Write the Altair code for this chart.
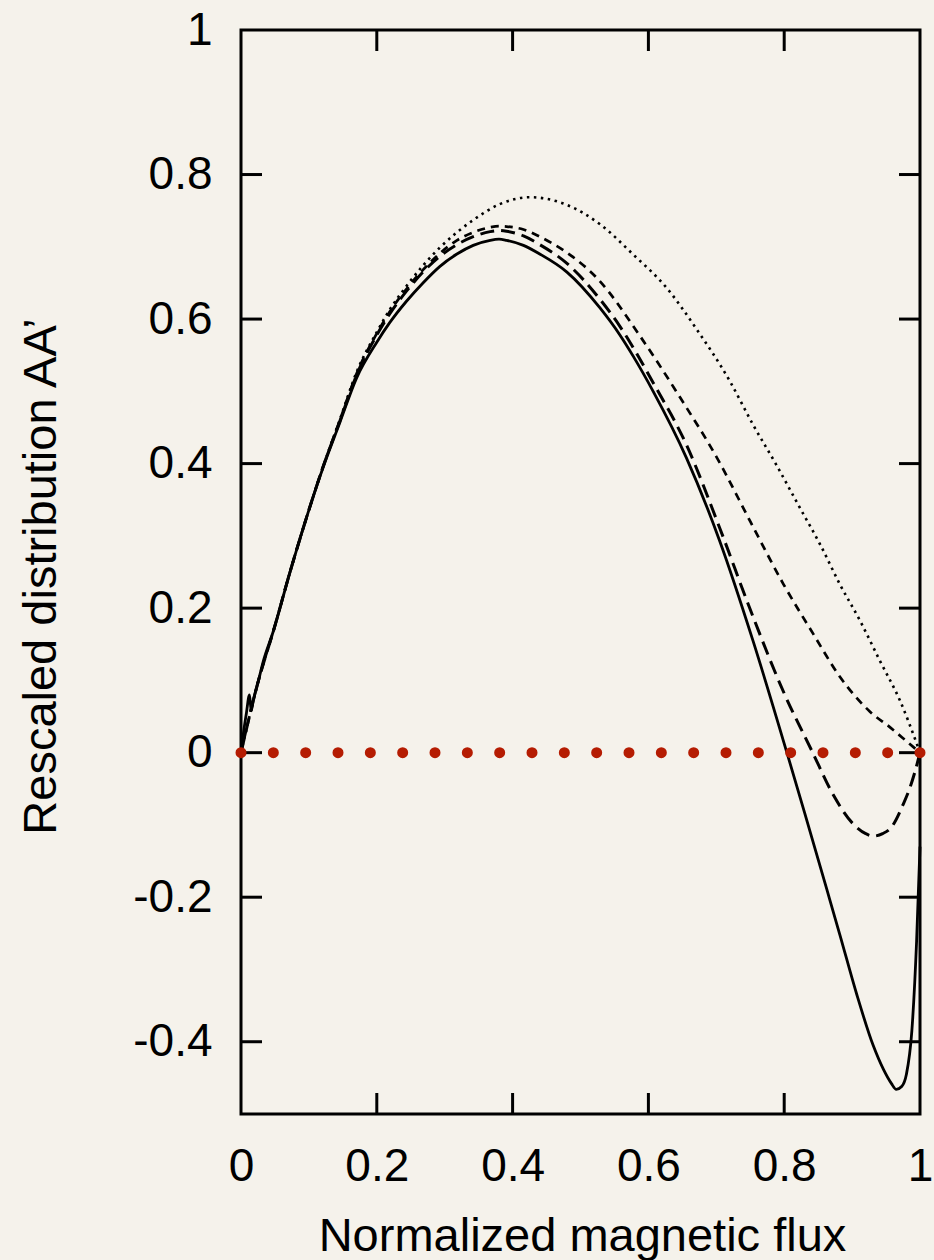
import altair as alt
import pandas as pd

# ---- data ----
solid_x = [0, 0.004, 0.008, 0.0125, 0.015, 0.018, 0.0255, 0.033, 0.0476, 0.0722, 0.0967,
           0.121, 0.146, 0.17, 0.2, 0.219, 0.244, 0.268, 0.293, 0.318, 0.342,
           0.367, 0.38, 0.391, 0.416, 0.44, 0.48, 0.529, 0.558, 0.578, 0.607,
           0.656, 0.705, 0.754, 0.804, 0.83, 0.863, 0.882, 0.907, 0.931, 0.946,
           0.958, 0.965, 0.973, 0.98, 0.988, 0.995, 1.0]
solid_y = [0, 0.03, 0.055, 0.08, 0.058, 0.072, 0.099, 0.127, 0.168, 0.25, 0.326,
           0.395, 0.458, 0.518, 0.568, 0.595, 0.625, 0.65, 0.673, 0.69, 0.702,
           0.709, 0.7105, 0.709, 0.702, 0.69, 0.665, 0.615, 0.578, 0.548, 0.5,
           0.408, 0.293, 0.155, 0.0, -0.083, -0.19, -0.252, -0.335, -0.405, -0.438,
           -0.458, -0.466, -0.462, -0.445, -0.385, -0.261, -0.13]

longdash_x = [0, 0.0255, 0.0476, 0.0722, 0.0967, 0.121, 0.146, 0.17, 0.2, 0.219,
              0.244, 0.268, 0.293, 0.318, 0.342, 0.367, 0.38, 0.391, 0.416, 0.44,
              0.48, 0.529, 0.558, 0.607, 0.656, 0.705, 0.75, 0.80, 0.842, 0.872,
              0.902, 0.92, 0.931, 0.945, 0.958, 0.975, 0.985, 0.993, 1.0]
longdash_y = [0, 0.099, 0.168, 0.25, 0.326, 0.396, 0.46, 0.522, 0.578, 0.607,
              0.639, 0.665, 0.687, 0.703, 0.714, 0.721, 0.7225, 0.7215, 0.715, 0.703,
              0.677, 0.627, 0.59, 0.512, 0.426, 0.311, 0.198, 0.082, 0.0, -0.058,
              -0.099, -0.112, -0.1155, -0.112, -0.103, -0.072, -0.049, -0.025, 0.0]

shortdash_x = [0, 0.0255, 0.0476, 0.0722, 0.0967, 0.121, 0.146, 0.17, 0.2, 0.219,
               0.244, 0.268, 0.293, 0.318, 0.342, 0.367, 0.38, 0.391, 0.416, 0.44,
               0.48, 0.526, 0.588, 0.647, 0.701, 0.75, 0.799, 0.843, 0.882, 0.926,
               0.956, 0.98, 1.0]
shortdash_y = [0, 0.099, 0.168, 0.25, 0.326, 0.396, 0.461, 0.524, 0.58, 0.61,
               0.642, 0.668, 0.691, 0.709, 0.72, 0.727, 0.7285, 0.728, 0.724, 0.714,
               0.692, 0.655, 0.576, 0.491, 0.408, 0.32, 0.233, 0.164, 0.105, 0.057,
               0.035, 0.016, 0.0]

dotted_x = [0, 0.0255, 0.0476, 0.0722, 0.0967, 0.121, 0.146, 0.17, 0.2, 0.219,
            0.244, 0.268, 0.293, 0.318, 0.342, 0.381, 0.4256, 0.48, 0.529, 0.578,
            0.627, 0.671, 0.72, 0.754, 0.788, 0.823, 0.853, 0.882, 0.912, 0.941,
            0.971, 0.995, 1.0]
dotted_y = [0, 0.099, 0.168, 0.25, 0.326, 0.396, 0.462, 0.526, 0.582, 0.613,
            0.646, 0.674, 0.699, 0.72, 0.737, 0.759, 0.7686, 0.758, 0.731, 0.689,
            0.643, 0.586, 0.514, 0.454, 0.399, 0.339, 0.288, 0.233, 0.182, 0.127,
            0.071, 0.013, 0.0]

x_ticks = [0, 0.2, 0.4, 0.6, 0.8, 1]
y_ticks = [-0.4, -0.2, 0, 0.2, 0.4, 0.6, 0.8, 1]
x_inner_ticks = [0.2, 0.4, 0.6, 0.8]
y_inner_ticks = [-0.4, -0.2, 0, 0.2, 0.4, 0.6, 0.8]
zero_line = [0]

W, H = 679, 1084
FONT = "Liberation Sans"
BG = "#f5f2eb"

xscale = alt.Scale(domain=[0, 1], nice=False, zero=False)
yscale = alt.Scale(domain=[-0.5, 1], nice=False, zero=False)

x_axis = alt.Axis(values=x_ticks, labelExpr="toString(datum.value)", tickSize=0,
                  domain=False, grid=False, labelFontSize=46, labelFont=FONT,
                  labelColor="black", labelPadding=30, labelFlush=False,
                  title="Normalized magnetic flux", titleFontSize=47, titleFont=FONT,
                  titleFontWeight="normal", titleColor="black",
                  titleX=341, titleY=136, titleBaseline="alphabetic", titleAnchor="middle")
y_axis = alt.Axis(values=y_ticks, labelExpr="toString(datum.value)", tickSize=0,
                  domain=False, grid=False, labelFontSize=46, labelFont=FONT,
                  labelColor="black", labelPadding=29, labelFlush=False,
                  title="Rescaled distribution AA\u2019", titleFontSize=47, titleFont=FONT,
                  titleFontWeight="normal", titleColor="black", titleAngle=270,
                  titleX=-186, titleY=546, titleBaseline="alphabetic", titleAlign="center")

X = alt.X("x:Q", scale=xscale, axis=x_axis)
Y = alt.Y("y:Q", scale=yscale, axis=y_axis)


def series_df(xs, ys):
    return pd.DataFrame({"x": xs, "y": ys, "i": list(range(len(xs)))})


solid = alt.Chart(series_df(solid_x, solid_y)).mark_line(
    color="black", strokeWidth=2.8, interpolate="monotone").encode(x=X, y=Y, order="i:Q")

longdash = alt.Chart(series_df(longdash_x, longdash_y)).mark_line(
    color="black", strokeWidth=3, strokeDash=[14, 7], interpolate="monotone").encode(
    x=X, y=Y, order="i:Q")

shortdash = alt.Chart(series_df(shortdash_x, shortdash_y)).mark_line(
    color="black", strokeWidth=2.7, strokeDash=[8, 6], interpolate="monotone").encode(
    x=X, y=Y, order="i:Q")

dotted = alt.Chart(series_df(dotted_x, dotted_y)).mark_line(
    color="black", strokeWidth=2.6, strokeDash=[2.5, 4.5], interpolate="monotone").encode(
    x=X, y=Y, order="i:Q")

zero_dots = alt.Chart(pd.DataFrame({"y": zero_line})).mark_rule(
    color="#b51c02", strokeWidth=11, strokeCap="round",
    strokeDash=[0.01, 32.323]).encode(y=Y, x=alt.value(0), x2=alt.value(W))

tick_bottom = alt.Chart(pd.DataFrame({"x": x_inner_ticks})).mark_rule(
    color="black", strokeWidth=3).encode(x=X, y=alt.value(H), y2=alt.value(H - 21))
tick_top = alt.Chart(pd.DataFrame({"x": x_inner_ticks})).mark_rule(
    color="black", strokeWidth=3).encode(x=X, y=alt.value(0), y2=alt.value(21))
tick_left = alt.Chart(pd.DataFrame({"y": y_inner_ticks})).mark_rule(
    color="black", strokeWidth=3).encode(y=Y, x=alt.value(0), x2=alt.value(21))
tick_right = alt.Chart(pd.DataFrame({"y": y_inner_ticks})).mark_rule(
    color="black", strokeWidth=3).encode(y=Y, x=alt.value(W), x2=alt.value(W - 21))

chart = alt.layer(
    solid, tick_bottom, tick_top, tick_left, tick_right,
    longdash, shortdash, dotted, zero_dots
).properties(
    width=W, height=H,
    autosize=alt.AutoSizeParams(type="none"),
    padding={"left": 241, "top": 30, "right": 14, "bottom": 146},
    background=BG,
).configure_view(
    stroke="black", strokeWidth=3, fill=BG
)

chart.save("out.html", embed_options={"renderer": "svg", "actions": False})
